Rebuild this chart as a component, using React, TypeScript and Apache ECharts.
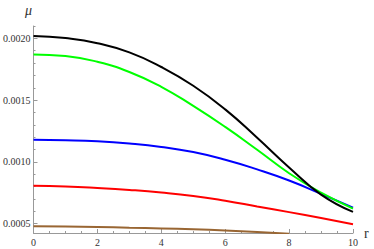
import React, { useEffect, useRef } from "react";
import * as echarts from "echarts";

const rValues = [0, 1, 2, 3, 4, 5, 6, 7, 8, 9, 10];
const blackSeries = [0.002019, 0.002002, 0.001961, 0.001886, 0.001768, 0.001616, 0.001425, 0.001195, 0.000955, 0.000735, 0.000595];
const greenSeries = [0.00187, 0.001857, 0.00181, 0.001728, 0.001608, 0.001453, 0.001283, 0.001098, 0.000908, 0.00075, 0.000622];
const blueSeries = [0.001178, 0.001175, 0.001167, 0.001149, 0.001121, 0.001079, 0.001017, 0.000939, 0.000849, 0.000741, 0.000629];
const redSeries = [0.000806, 0.000801, 0.000789, 0.000773, 0.000752, 0.000724, 0.000685, 0.000639, 0.000593, 0.000545, 0.000495];
const brownSeries = [0.000478, 0.000476, 0.000473, 0.000467, 0.000461, 0.000454, 0.000444, 0.000432, 0.000418];

const yMajorTicks = [0.0005, 0.001, 0.0015, 0.002];
const yMinorTicks = [0.0006, 0.0007, 0.0008, 0.0009, 0.0011, 0.0012, 0.0013, 0.0014, 0.0016, 0.0017, 0.0018, 0.0019, 0.0021];

const Y_MIN = 0.000424;
const Y_MAX = 0.0021;

const AXIS_COLOR = "#999999";
const LABEL_COLOR = "#333333";
const FONT = "'Liberation Serif', 'Times New Roman', serif";

function pairs(vals: number[]) {
  return vals.map((v, i) => [rValues[i], v]);
}

export default function App() {
  const ref = useRef<HTMLDivElement>(null);
  useEffect(() => {
    if (!ref.current) return;
    const chart = echarts.init(ref.current, undefined, { renderer: "svg" });
    const lineSeries = (data: number[], color: string) => ({
      type: "line",
      data: pairs(data),
      smooth: true,
      showSymbol: false,
      symbol: "none",
      clip: true,
      lineStyle: { color, width: 2 },
      xAxisIndex: 0,
      yAxisIndex: 0,
    });
    chart.setOption({
      animation: false,
      backgroundColor: "#ffffff",
      grid: { left: 29, right: 21, top: 26, bottom: 16, containLabel: false },
      xAxis: [
        {
          type: "value",
          min: 0,
          max: 10,
          interval: 2,
          axisLine: { show: true, lineStyle: { color: AXIS_COLOR, width: 1 } },
          axisTick: { show: true, inside: true, length: 4, lineStyle: { color: AXIS_COLOR } },
          minorTick: { show: true, splitNumber: 4, length: 2, lineStyle: { color: AXIS_COLOR } },
          splitLine: { show: false },
          minorSplitLine: { show: false },
          axisLabel: { color: LABEL_COLOR, fontFamily: FONT, fontSize: 10, margin: 4 },
        },
      ],
      yAxis: [
        {
          type: "value",
          min: Y_MIN,
          max: Y_MAX,
          axisLine: { show: true, lineStyle: { color: AXIS_COLOR, width: 1 } },
          axisTick: { show: true, inside: true, length: 4, customValues: yMajorTicks, lineStyle: { color: AXIS_COLOR } },
          splitLine: { show: false },
          axisLabel: {
            color: LABEL_COLOR,
            fontFamily: FONT,
            fontSize: 10,
            margin: 3,
            customValues: yMajorTicks,
            formatter: (v: number) => v.toFixed(4),
          },
        },
        {
          type: "value",
          min: Y_MIN,
          max: Y_MAX,
          position: "left",
          axisLine: { show: false },
          axisTick: { show: true, inside: true, length: 2, customValues: yMinorTicks, lineStyle: { color: AXIS_COLOR } },
          splitLine: { show: false },
          axisLabel: { show: false, customValues: yMinorTicks },
        },
      ],
      graphic: [
        {
          type: "text",
          left: 25,
          top: 3,
          style: { text: "μ", font: `italic 14px ${FONT}`, fill: "#333" },
        },
        {
          type: "text",
          left: 364,
          top: 226,
          style: { text: "r", font: `14px ${FONT}`, fill: "#333" },
        },
      ],
      series: [
        lineSeries(brownSeries, "#996633"),
        lineSeries(redSeries, "#ff0000"),
        lineSeries(blueSeries, "#0000ff"),
        lineSeries(greenSeries, "#00ff00"),
        lineSeries(blackSeries, "#000000"),
      ],
    });
    return () => chart.dispose();
  }, []);
  return (
    <div
      ref={ref}
      style={{ position: "fixed", left: 0, top: 0, width: 374, height: 249, background: "#fff" }}
    />
  );
}
